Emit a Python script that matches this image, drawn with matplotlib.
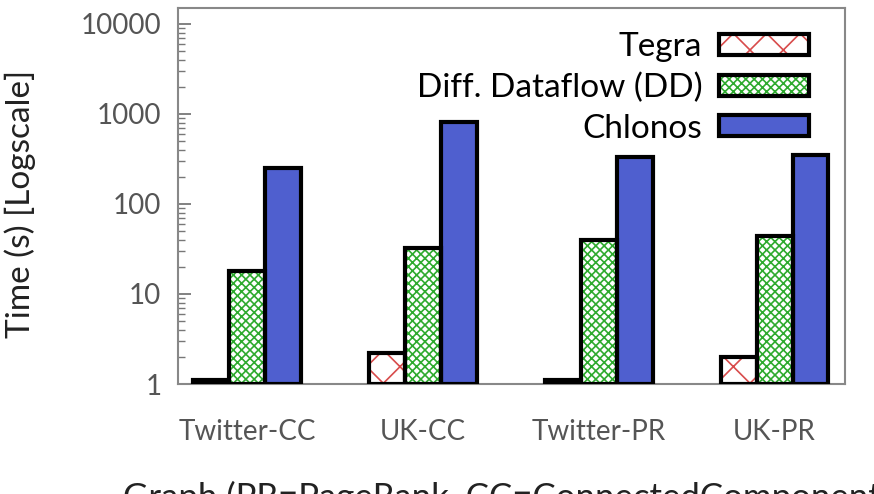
import matplotlib
matplotlib.use("Agg")
import matplotlib.pyplot as plt
import numpy as np
from matplotlib.patches import Patch

plt.rcParams['font.family'] = ['Lato', 'DejaVu Sans']

categories = ["Twitter-CC", "UK-CC", "Twitter-PR", "UK-PR"]
series_names = ["Tegra", "Diff. Dataflow (DD)", "Chlonos"]
tegra = [1.1, 2.2, 1.1, 2.0]
dd = [18, 32, 40, 44]
chlonos = [250, 815, 330, 350]
yticks = [1, 10, 100, 1000, 10000]
ytick_labels = ["1", "10", "100", "1000", "10000"]

fig = plt.figure(figsize=(8.74, 4.94), dpi=100)
ax = fig.add_axes([178/874, 1-384/494, (845-178)/874, (384-8)/494])

x = np.arange(len(categories))
w = 0.204
offsets = [-w, 0, w]
data = [tegra, dd, chlonos]
faces = ["white", "white", "#4F5FCF"]
hatches = ["x", "xxxx", None]
hcolors = ["#D84B4B", "#2EAA2E", None]

plt.rcParams['hatch.linewidth'] = 1.2
for vals, off, fc, h, hc in zip(data, offsets, faces, hatches, hcolors):
    if h:
        ax.bar(x + off, np.array(vals) - 1, w, bottom=1, color=fc, hatch=h,
               edgecolor=hc, linewidth=0, zorder=2)
    else:
        ax.bar(x + off, np.array(vals) - 1, w, bottom=1, color=fc, linewidth=0, zorder=2)
    ax.bar(x + off, np.array(vals) - 1, w, bottom=1, facecolor="none",
           edgecolor="black", linewidth=3.0, zorder=3)

ax.set_yscale("log")
ax.set_ylim(1, 15000)
ax.set_xlim(-0.393, 3.40)
ax.set_yticks(yticks)
ax.set_yticklabels(ytick_labels)
ax.set_xticks(x)
ax.set_xticklabels(categories)
ax.tick_params(axis="x", length=0, labelsize=20, colors="#555555", pad=25)
ax.tick_params(axis="y", which="major", direction="in", length=9, width=1.3,
               labelsize=20, labelcolor="#555555", color="#777777", pad=12)
ax.tick_params(axis="y", which="minor", direction="in", length=5, width=1.0, color="#777777")
for s in ax.spines.values():
    s.set_color("#888888")
    s.set_linewidth(1.5)

ax.set_ylabel("Time (s) [Logscale]", fontsize=24, color="#222222", va="center")
ax.yaxis.set_label_coords(-0.237, 0.48)
ax.set_xlabel("Graph (PR=PageRank, CC=ConnectedComponents)", fontsize=25,
              color="#222222", ha="left", va="top")
ax.xaxis.set_label_coords(-0.082, -0.258)

# legend
leg_handles = []
for fc, h, hc in zip(faces, hatches, hcolors):
    leg_handles.append(Patch(facecolor=fc, hatch=h, edgecolor=hc if hc else "black", linewidth=0))
leg = ax.legend(leg_handles, series_names, loc="upper right", bbox_to_anchor=(0.986, 1.006),
                frameon=False, markerfirst=False, fontsize=24, handlelength=2.7,
                handleheight=0.6, labelspacing=0.31, handletextpad=0.5, borderpad=0.3)
fig.canvas.draw()
inv = fig.transFigure.inverted()
for p in leg.get_patches():
    bb = p.get_window_extent()
    (x0, y0), (x1, y1) = inv.transform([[bb.x0, bb.y0], [bb.x1, bb.y1]])
    fig.patches.append(plt.Rectangle((x0, y0), x1 - x0, y1 - y0, transform=fig.transFigure,
                                     facecolor="none", edgecolor="black", linewidth=3.0, zorder=10))

fig.savefig("out.png", dpi=100)
